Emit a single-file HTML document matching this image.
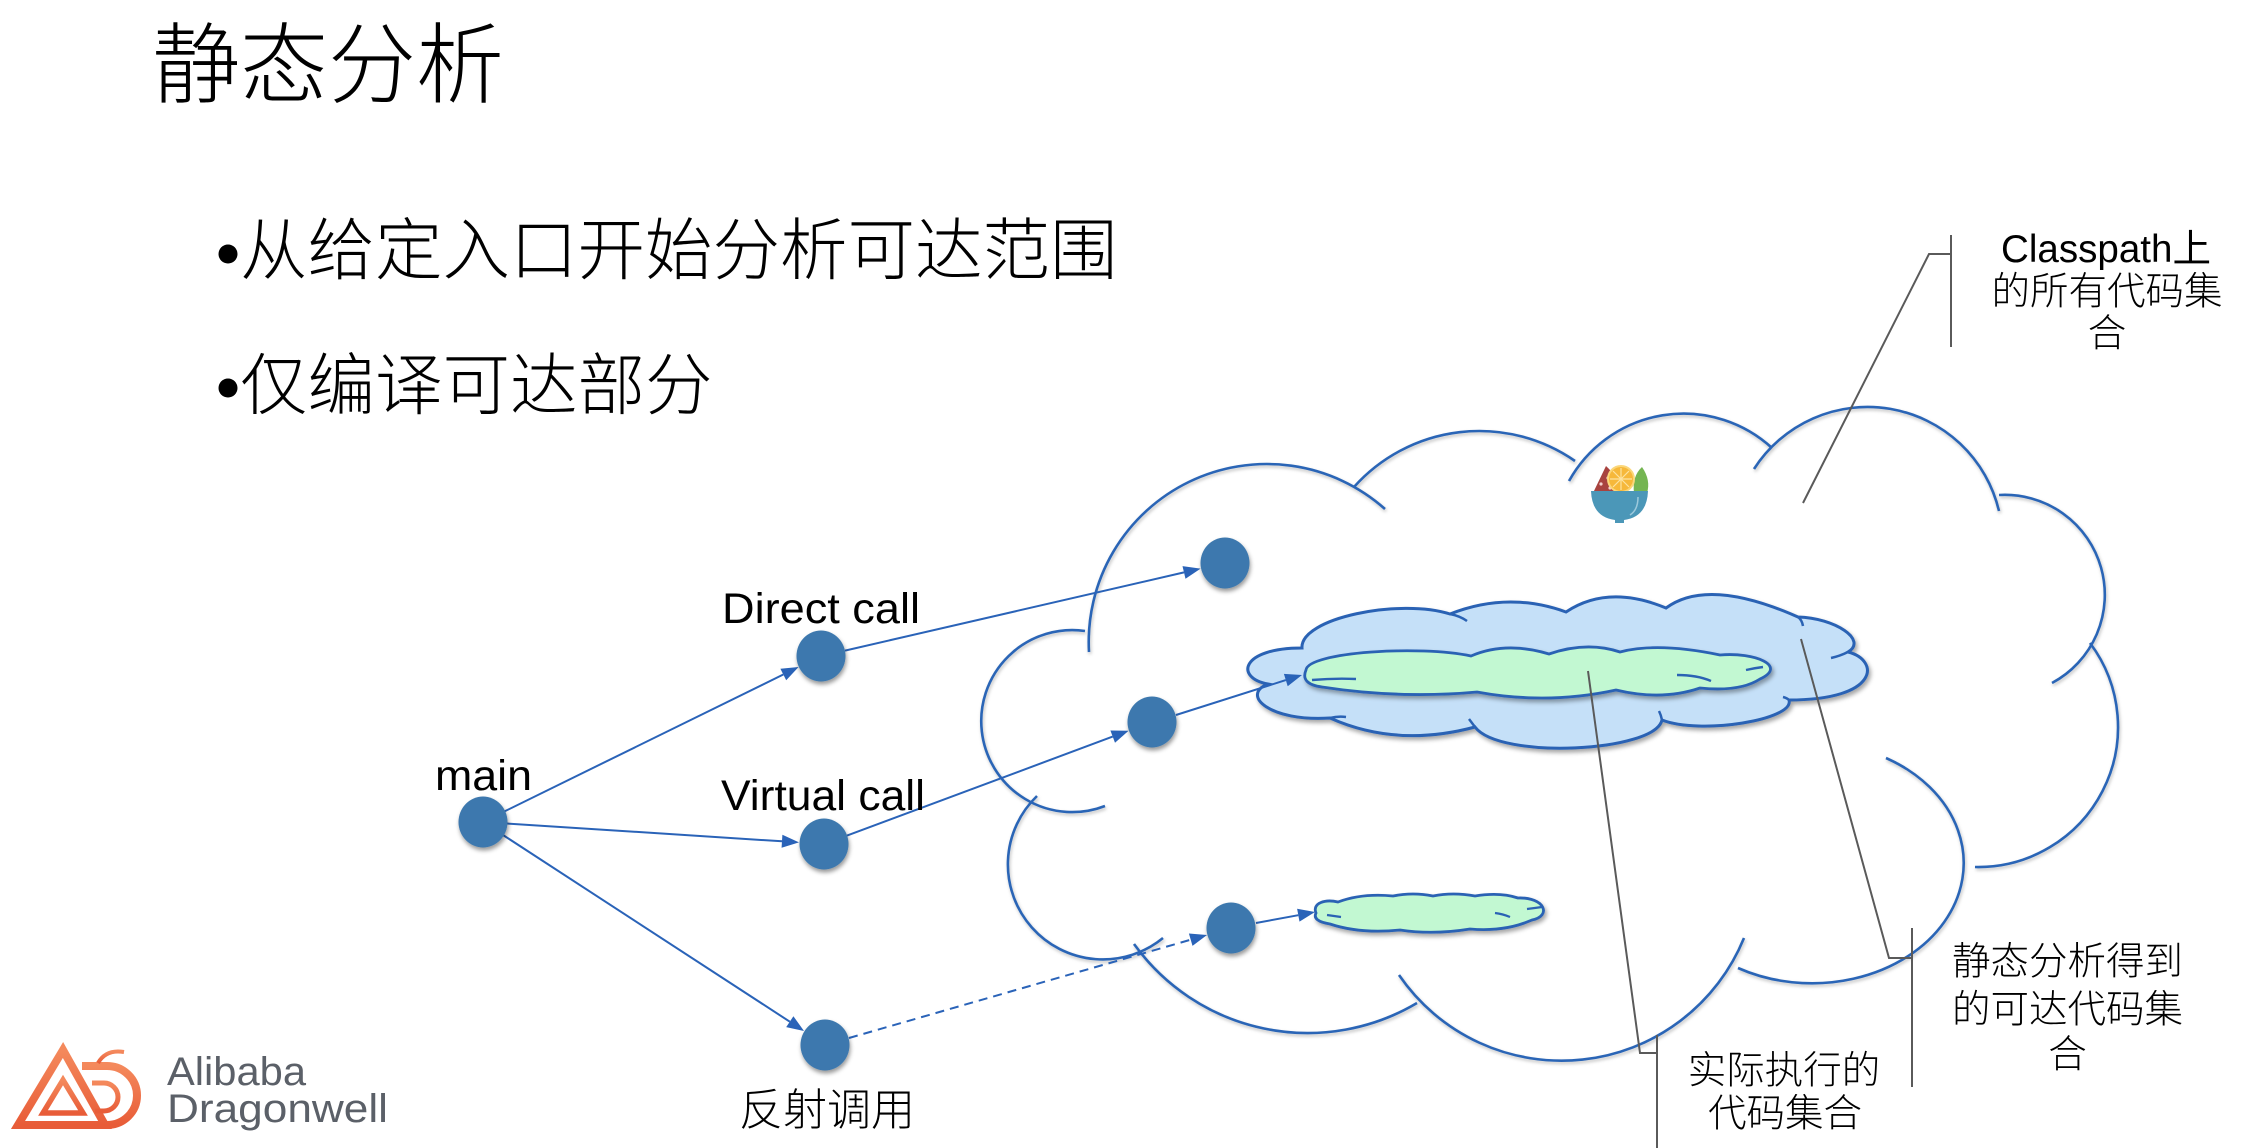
<!DOCTYPE html>
<html><head><meta charset="utf-8"><style>
html,body{margin:0;padding:0;background:#fff;}
svg{display:block;}
text{font-family:"Liberation Sans","Noto Sans CJK SC",sans-serif;fill:#000;}
.cj{font-weight:300;}
</style></head><body>
<svg width="2262" height="1148" viewBox="0 0 2262 1148" xmlns="http://www.w3.org/2000/svg">
<defs>
<filter id="sh" x="-10%" y="-10%" width="130%" height="140%"><feDropShadow dx="2" dy="3" stdDeviation="2" flood-color="#000" flood-opacity="0.35"/></filter>
<filter id="sh2" x="-10%" y="-10%" width="130%" height="140%"><feDropShadow dx="1" dy="2" stdDeviation="1.5" flood-color="#000" flood-opacity="0.25"/></filter>
<filter id="shn" x="-30%" y="-30%" width="170%" height="170%"><feDropShadow dx="1" dy="3" stdDeviation="2" flood-color="#000" flood-opacity="0.4"/></filter>
<linearGradient id="og" x1="0" y1="0" x2="0" y2="1"><stop offset="0" stop-color="#f4895c"/><stop offset="1" stop-color="#e85c38"/></linearGradient>
</defs>
<rect width="2262" height="1148" fill="#fff"/>

<!-- Title and bullets -->
<text class="cj" x="152" y="96" font-size="88">静态分析</text>
<circle cx="228" cy="254" r="9.5" fill="#000"/>
<text class="cj" x="240" y="274" font-size="67.5">从给定入口开始分析可达范围</text>
<circle cx="228" cy="388" r="9.5" fill="#000"/>
<text class="cj" x="240" y="409" font-size="67.5">仅编译可达部分</text>

<!-- Big cloud -->
<g fill="none" stroke="#2c65b6" stroke-width="2.6" filter="url(#sh2)">
<path d="M1089,652 A178,178 0 0 1 1385,509"/>
<path d="M1354,487 A168,168 0 0 1 1575,461"/>
<path d="M1569,481 A131,131 0 0 1 1772,448"/>
<path d="M1754,469 A135,135 0 0 1 1999,511"/>
<path d="M1999,495 A100,100 0 0 1 2052,683"/>
<path d="M2090,643 A140,140 0 0 1 1975,867"/>
<path d="M1886,758 A145,115 0 1 1 1738,968"/>
<path d="M1744,938 A197,197 0 0 1 1399,975"/>
<path d="M1417,1003 A214,214 0 0 1 1134,944"/>
<path d="M1163,938 A95,95 0 0 1 1037,796"/>
<path d="M1105,806 A91,91 0 1 1 1085,631"/>
</g>

<!-- Light blue cloud -->
<path filter="url(#sh)" fill="#c5e0f8" stroke="#2a62b4" stroke-width="3" d="M1302,648 C1300,618 1400,598 1450,614 Q1508,591 1566,612 Q1608,584 1666,608 Q1708,577 1798,617 C1835,618 1868,640 1848,652 C1880,660 1880,700 1789,700 C1795,720 1700,735 1662,720 C1655,752 1500,760 1475,727 Q1397,748 1330,718 C1270,722 1240,695 1268,684 C1235,678 1240,648 1302,648 Z"/>
<g fill="none" stroke="#2a62b4" stroke-width="2.5">
<path d="M1450,614 Q1460,616 1467,621"/>
<path d="M1798,617 Q1802,620 1803,626"/>
<path d="M1848,652 Q1840,656 1831,658"/>
<path d="M1330,718 Q1338,716 1346,717"/>
<path d="M1662,720 Q1661,715 1659,711"/>
<path d="M1475,727 Q1472,723 1469,719"/>
<path d="M1789,700 Q1787,698 1783,697"/>
</g>

<!-- Green cloud inside -->
<path filter="url(#sh)" fill="#c2f8d2" stroke="#2a62b4" stroke-width="2.8" d="M1306,670 C1308,652 1420,645 1471,656 Q1506,641 1549,654 Q1587,641 1620,652 Q1658,642 1720,655 C1755,652 1788,666 1760,679 Q1740,692 1700,688 Q1662,701 1616,690 Q1547,705 1477,692 Q1400,699 1322,687 Q1300,684 1306,670 Z"/>
<g fill="none" stroke="#2a62b4" stroke-width="2.4">
<path d="M1312,680 Q1335,678 1356,679"/>
<path d="M1677,675 Q1697,675 1711,681"/>
<path d="M1746,670 Q1755,668 1763,667"/>
</g>

<!-- Small green cloud -->
<path filter="url(#sh)" fill="#c2f8d2" stroke="#2a62b4" stroke-width="2.8" d="M1316,913 C1312,903 1325,899 1338,902 Q1362,893 1393,896 Q1413,892 1433,896 Q1453,892 1475,896 Q1500,892 1518,898 C1545,897 1552,916 1532,920 Q1505,932 1470,929 Q1433,935 1400,930 Q1360,934 1330,924 Q1312,921 1316,913 Z"/>
<g fill="none" stroke="#2a62b4" stroke-width="2.2">
<path d="M1327,915 Q1334,916 1341,917"/>
<path d="M1495,913 Q1503,914 1510,917"/>
<path d="M1527,909 Q1535,908 1542,907"/>
</g>

<!-- Fruit bowl icon -->
<g>
<path d="M1593,493 L1606,466 Q1619,478 1623,493 Z" fill="#a8433f"/>
<circle cx="1601" cy="484" r="1.6" fill="#f3d3cf"/>
<circle cx="1608" cy="478" r="1.6" fill="#f3d3cf"/>
<circle cx="1610" cy="488" r="1.6" fill="#f3d3cf"/>
<path d="M1634,493 Q1632,476 1642,467 Q1651,480 1647,493 Z" fill="#74b552"/>
<circle cx="1621" cy="479" r="13" fill="#f6b83a" stroke="#fbd77a" stroke-width="2"/>
<g stroke="#fde3a0" stroke-width="1.2"><line x1="1621" y1="468" x2="1621" y2="490"/><line x1="1610" y1="479" x2="1632" y2="479"/><line x1="1613" y1="471" x2="1629" y2="487"/><line x1="1629" y1="471" x2="1613" y2="487"/></g>
<path d="M1591,491 H1648 Q1647,517 1624,520 L1624,523 H1615 L1615,520 Q1592,517 1591,491 Z" fill="#4b97b8"/>
<path d="M1638,497 Q1638,510 1630,515" fill="none" stroke="#9cc9dc" stroke-width="1.5"/>
</g>

<!-- Leader lines -->
<g fill="none" stroke="#5a5a5a" stroke-width="2">
<polyline points="1803,503 1929,254 1951,254"/>
<line x1="1951" y1="235" x2="1951" y2="347"/>
<polyline points="1801,639 1889,958 1912,958"/>
<line x1="1912" y1="928" x2="1912" y2="1087"/>
<polyline points="1588,671 1640,1053 1657,1053"/>
<line x1="1657" y1="1035" x2="1657" y2="1148"/>
</g>

<!-- Arrows -->
<g stroke="#2a63b8" stroke-width="2" fill="none">
<line x1="504.5" y1="811.4" x2="783.3" y2="674.5"/>
<line x1="507" y1="823.5" x2="782" y2="841.3"/>
<line x1="503" y1="835" x2="789.8" y2="1021.7"/>
<line x1="845" y1="650.6" x2="1184" y2="572.4"/>
<line x1="847" y1="835.6" x2="1112.7" y2="736.6"/>
<line x1="1176" y1="715" x2="1285.8" y2="680.1"/>
<line x1="849" y1="1038" x2="1190.7" y2="939.7" stroke-dasharray="9,6"/>
<line x1="1256" y1="923" x2="1298.3" y2="915.2"/>
</g>
<g fill="#2a63b8">
<polygon points="798.6,667 786.2,680.3 780.4,668.7"/>
<polygon points="799,842.4 781.6,847.8 782.4,834.8"/>
<polygon points="804,1031 786.2,1027.1 793.4,1016.3"/>
<polygon points="1200.6,568.6 1185.5,578.7 1182.5,566.1"/>
<polygon points="1128.6,730.7 1115,742.7 1110.4,730.5"/>
<polygon points="1302,675 1287.7,686.3 1283.9,673.9"/>
<polygon points="1207,935 1192.5,945.9 1188.9,933.5"/>
<polygon points="1315,912 1299.5,921.6 1297.1,908.8"/>
</g>

<!-- Nodes -->
<g fill="#3c78ae" filter="url(#shn)">
<ellipse cx="483" cy="822" rx="24.5" ry="25.5"/>
<ellipse cx="821" cy="656" rx="24.5" ry="25.5"/>
<ellipse cx="824" cy="844" rx="24.5" ry="25.5"/>
<ellipse cx="825" cy="1045" rx="24.5" ry="25.5"/>
<ellipse cx="1225" cy="563" rx="24.5" ry="25.5"/>
<ellipse cx="1152" cy="722" rx="24.5" ry="25.5"/>
<ellipse cx="1231" cy="928" rx="24.5" ry="25.5"/>
</g>

<!-- Node labels -->
<text x="435" y="790" font-size="43" textLength="97" lengthAdjust="spacingAndGlyphs">main</text>
<text x="722" y="623" font-size="43" textLength="198" lengthAdjust="spacingAndGlyphs">Direct call</text>
<text x="721" y="810" font-size="43" textLength="204" lengthAdjust="spacingAndGlyphs">Virtual call</text>
<text class="cj" x="827" y="1125" font-size="44" text-anchor="middle">反射调用</text>

<!-- Right labels -->
<g font-size="38.5" text-anchor="middle">
<text x="2106" y="262" textLength="210" lengthAdjust="spacingAndGlyphs">Classpath上</text>
<text class="cj" x="2107" y="304.5">的所有代码集</text>
<text class="cj" x="2107" y="346.5">合</text>
<text class="cj" x="2067.5" y="974.5">静态分析得到</text>
<text class="cj" x="2067.5" y="1022.5">的可达代码集</text>
<text class="cj" x="2067.5" y="1067.5">合</text>
<text class="cj" x="1784" y="1083.5">实际执行的</text>
<text class="cj" x="1785" y="1126.5">代码集合</text>
</g>

<!-- Logo -->
<g fill="none" stroke="url(#og)" stroke-linejoin="miter">
<polygon points="63,1050 18,1125 105,1125" stroke-width="8"/>
<polygon points="63,1080 43,1113 83,1113" stroke-width="5.5"/>
<path d="M82,1066 H107 A30,29.5 0 0 1 107,1125" stroke-width="8"/>
<path d="M92,1083 H104 A14,14 0 0 1 104,1111 H95" stroke-width="5"/>
<path d="M98,1063 Q106,1049 124,1052" stroke-width="4"/>
</g>
<text x="167" y="1085" font-size="40" style="fill:#5b6068" textLength="139" lengthAdjust="spacingAndGlyphs">Alibaba</text>
<text x="167" y="1122" font-size="40" style="fill:#5b6068" textLength="221" lengthAdjust="spacingAndGlyphs">Dragonwell</text>
</svg>
</body></html>
